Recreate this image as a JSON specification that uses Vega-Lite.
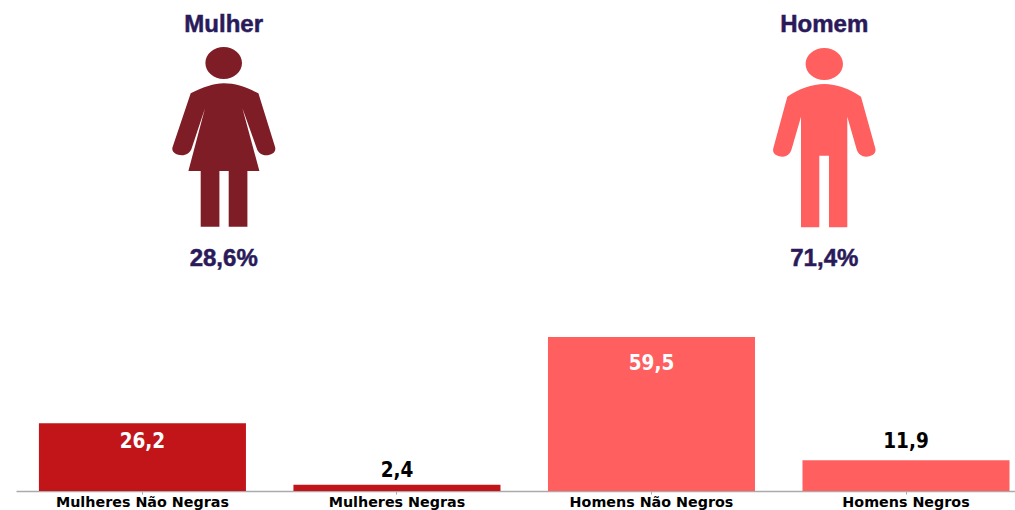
{"$schema":"https://vega.github.io/schema/vega-lite/v6.json","padding":{"left":16,"right":0,"top":0,"bottom":0},"background":"white","spacing":0,"config":{"view":{"stroke":null},"concat":{"spacing":0}},"vconcat":[{"width":999,"height":300,"data":{"values":[{"genero":"Mulher","linha":"titulo","percentual":"28,6%"},{"genero":"Homem","linha":"titulo","percentual":"71,4%"}]},"encoding":{"x":{"field":"genero","type":"nominal","axis":null,"sort":null,"scale":{"type":"point","padding":0,"domain":["Mulher","Homem"],"range":[207.7,808.3]}}},"layer":[{"mark":{"type":"text","font":"Liberation Sans","fontWeight":"bold","fontSize":24,"color":"#2A1A5A","stroke":"#2A1A5A","strokeWidth":0.5,"baseline":"middle","dy":1},"encoding":{"y":{"datum":"titulo","type":"nominal","axis":null,"scale":{"type":"point","padding":0,"domain":["titulo","icone","percentual"],"range":[24,252]}},"text":{"field":"genero"}}},{"transform":[{"filter":"datum.genero === 'Mulher'"}],"mark":{"type":"point","filled":true,"opacity":1,"strokeWidth":0,"size":4,"color":"#7F1D27","shape":"M-18.3,-75C-18.3,-83.8 -10.1,-91 0,-91C10.1,-91 18.3,-83.8 18.3,-75C18.3,-66.2 10.1,-59 0,-59C-10.1,-59 -18.3,-66.2 -18.3,-75ZM-33,-44.7C-20,-51 -10,-54.7 0,-54.7C12,-54.7 22,-51 34.7,-44.7L51.3,8.7C53,14 48,17.3 42.3,17.3C38,17.3 34.5,15 33,10.3L18.7,-29.7L35.7,33L-35.3,33L-18.7,-29.7L-32,10.3C-33.5,15 -37.5,17.3 -42,17.3C-47.5,17.3 -53,14 -51,8.7ZM-23,33L-4.3,33L-4.3,88.7L-23,88.7ZM5,33L23.7,33L23.7,88.7L5,88.7Z"},"encoding":{"y":{"datum":"icone","type":"nominal"}}},{"transform":[{"filter":"datum.genero === 'Homem'"}],"mark":{"type":"point","filled":true,"opacity":1,"strokeWidth":0,"size":4,"color":"#FF5F5F","shape":"M-18.7,-74C-18.7,-82.8 -10.3,-90 0,-90C10.3,-90 18.7,-82.8 18.7,-74C18.7,-65.2 10.3,-58 0,-58C-10.3,-58 -18.7,-65.2 -18.7,-74ZM-37,-41.3C-26,-49 -12,-54 0,-54C12,-54 26,-49 36.7,-41.3L51,10.3C52.5,15.5 47.5,18.7 41.7,18.7C37.5,18.7 33.8,16 32.3,11.3L23,-21.3L23,89.3L4.7,89.3L4.7,17.7L-5,17.7L-5,89.3L-23.3,89.3L-23.3,-21.3L-32.7,11.3C-34.2,16 -37.5,18.7 -41.7,18.7C-47.5,18.7 -52.5,15.5 -51,10.3Z"},"encoding":{"y":{"datum":"icone","type":"nominal"}}},{"mark":{"type":"text","font":"Liberation Sans","fontWeight":"bold","fontSize":24,"color":"#2A1A5A","stroke":"#2A1A5A","strokeWidth":0.5,"baseline":"middle","dy":7},"encoding":{"y":{"datum":"percentual","type":"nominal"},"text":{"field":"percentual"}}}]},{"width":999,"height":191,"data":{"values":[{"categoria":"Mulheres Não Negras","genero":"Mulher","valor":26.2,"rotulo":"26,2"},{"categoria":"Mulheres Negras","genero":"Mulher","valor":2.4,"rotulo":"2,4"},{"categoria":"Homens Não Negros","genero":"Homem","valor":59.5,"rotulo":"59,5"},{"categoria":"Homens Negros","genero":"Homem","valor":11.9,"rotulo":"11,9"}]},"encoding":{"x":{"field":"categoria","type":"nominal","sort":null,"title":null,"scale":{"type":"band","paddingInner":0.1866,"paddingOuter":0.0558,"align":0.807},"axis":{"labelAngle":0,"labelFont":"DejaVu Sans","labelFontWeight":"bold","labelFontSize":14.3,"labelColor":"#000000","labelPadding":1.5,"tickColor":"#aaaaaa","tickSize":3,"domainColor":"#aaaaaa","domainWidth":1.5,"grid":false,"labelOverlap":false}},"y":{"field":"valor","type":"quantitative","axis":null,"scale":{"domain":[0,73.8],"nice":false}}},"layer":[{"mark":{"type":"bar"},"encoding":{"color":{"field":"genero","type":"nominal","legend":null,"scale":{"domain":["Mulher","Homem"],"range":["#C1151A","#FF5F5F"]}}}},{"transform":[{"filter":"datum.valor === 59.5"}],"mark":{"type":"text","font":"DejaVu Sans Condensed","fontWeight":"bold","fontSize":20.5,"color":"#FFFFFF","baseline":"middle","dy":27},"encoding":{"text":{"field":"rotulo"}}},{"transform":[{"filter":"datum.valor === 26.2"}],"mark":{"type":"text","font":"DejaVu Sans Condensed","fontWeight":"bold","fontSize":20.5,"color":"#FFFFFF","baseline":"middle","dy":19},"encoding":{"text":{"field":"rotulo"}}},{"transform":[{"filter":"datum.valor === 11.9"}],"mark":{"type":"text","font":"DejaVu Sans Condensed","fontWeight":"bold","fontSize":20.5,"color":"#000000","baseline":"middle","dy":-18},"encoding":{"text":{"field":"rotulo"}}},{"transform":[{"filter":"datum.valor === 2.4"}],"mark":{"type":"text","font":"DejaVu Sans Condensed","fontWeight":"bold","fontSize":20.5,"color":"#000000","baseline":"middle","dy":-14},"encoding":{"text":{"field":"rotulo"}}}]}]}
